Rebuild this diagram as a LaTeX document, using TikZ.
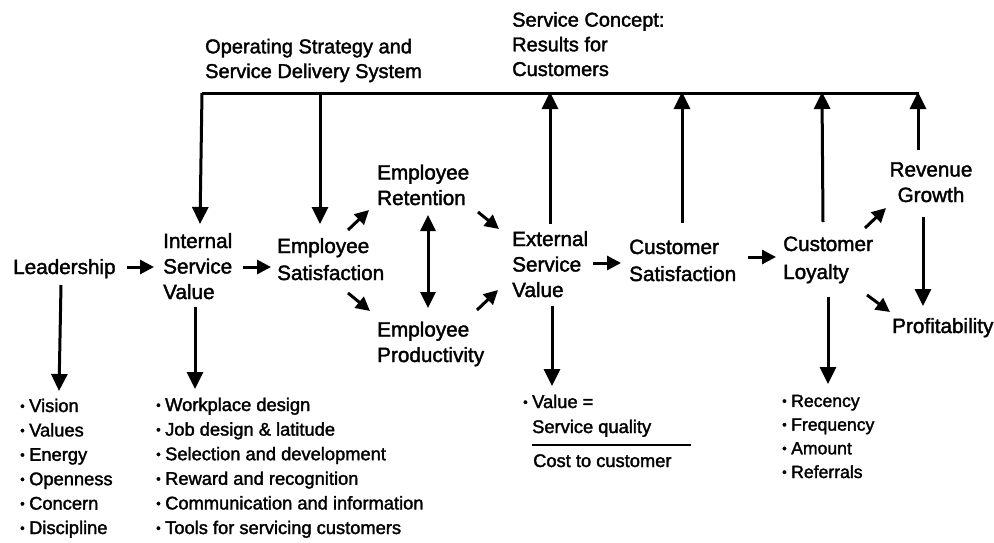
\documentclass[tikz,border=0pt]{standalone}
\usepackage{fontspec}
\setmainfont{Liberation Sans}[FakeBold=1.8]
\newfontfamily\mfont{Liberation Sans}[FakeBold=1.8]
\usetikzlibrary{arrows.meta}
\newcommand{\bt}{\makebox[9pt][l]{\raisebox{1.5pt}{\fontsize{13}{13}\selectfont\textbullet}}}
\begin{document}
\begin{tikzpicture}[x=1pt,y=-1pt,
  lbl/.style={inner sep=0pt, anchor=base west, align=left, font=\mfont\fontsize{20.7}{25.5}\selectfont},
  head/.style={inner sep=0pt, anchor=base west, align=left, font=\mfont\fontsize{20}{24.7}\selectfont},
  lst/.style={inner sep=0pt, anchor=base west, align=left, font=\mfont\fontsize{18.3}{24.4}\selectfont},
  bar/.style={line width=3pt},
  big/.style={line width=3pt, -{Triangle[length=17pt,width=16pt]}},
  sml/.style={line width=3pt, -{Triangle[length=14pt,width=14pt]}},
  dbl/.style={line width=3pt, {Triangle[length=16pt,width=15pt]}-{Triangle[length=16pt,width=15pt]}},
  rule/.style={line width=2pt}]
\useasboundingbox (0,0) rectangle (994,542);

% headings (anchor = baseline of last line)
\node[head] (ops) at (205,78) {Operating Strategy and\\Service Delivery System};
\node[head] (sc) at (512,76) {Service Concept:\\Results for\\Customers};

% main nodes
\node[lbl] (lead) at (13,274) {Leadership};
\node[lbl] (isv) at (163,299) {Internal\\Service\\Value};
\node[lbl, font=\mfont\fontsize{20.7}{27}\selectfont] (es) at (277,280) {Employee\\Satisfaction};
\node[lbl] (er) at (377,205) {Employee\\Retention};
\node[lbl] (ep) at (377,362) {Employee\\Productivity};
\node[lbl] (esv) at (512,297) {External\\Service\\Value};
\node[lbl, font=\mfont\fontsize{20.7}{27}\selectfont] (cs) at (629,281) {Customer\\Satisfaction};
\node[lbl, font=\mfont\fontsize{20.7}{28}\selectfont] (cl) at (783,279) {Customer\\Loyalty};
\node[lbl, align=center, anchor=base] (rg) at (931,202) {Revenue\\Growth};
\node[lbl] (pr) at (892,333) {Profitability};

% lists
\node[lst] (ll) at (20,534) {\bt Vision\\\bt Values\\\bt Energy\\\bt Openness\\\bt Concern\\\bt Discipline};
\node[lst, font=\mfont\fontsize{18.3}{24.6}\selectfont] (il) at (156,534) {\bt Workplace design\\\bt Job design \& latitude\\\bt Selection and development\\\bt Reward and recognition\\\bt Communication and information\\\bt Tools for servicing customers};
\node[lst, font=\mfont\fontsize{18.3}{25}\selectfont] (vl) at (523,433) {\bt Value =\\\hspace*{9pt}Service quality};
\node[lst] (vc) at (533,467) {Cost to customer};
\node[lst, font=\mfont\fontsize{17.6}{23.7}\selectfont] (cll) at (782,478) {\bt Recency\\\bt Frequency\\\bt Amount\\\bt Referrals};

% top bar
\coordinate (tl) at (202,93);
\coordinate (tr) at (919,93);
\draw[bar] (tl) -- (tr);

% down arrows from operating strategy
\coordinate (d1) at (202,93);
\coordinate (d1e) at (200,224);
\coordinate (d2) at (320,93);
\coordinate (d2e) at (320,224);
\draw[big] (d1) -- (d1e);
\draw[big] (d2) -- (d2e);

% up arrows to service concept
\coordinate (u1s) at (550,224); \coordinate (u1e) at (550,92);
\coordinate (u2s) at (682,223); \coordinate (u2e) at (682,92);
\coordinate (u3s) at (823,222); \coordinate (u3e) at (822,92);
\coordinate (u4s) at (918,150); \coordinate (u4e) at (918,92);
\draw[big] (u1s) -- (u1e);
\draw[big] (u2s) -- (u2e);
\draw[big] (u3s) -- (u3e);
\draw[big] (u4s) -- (u4e);

% horizontal chain
\coordinate (a1s) at (127,267); \coordinate (a1e) at (154,267);
\coordinate (a2s) at (243,267); \coordinate (a2e) at (271,267);
\coordinate (a3s) at (593,263); \coordinate (a3e) at (621,263);
\coordinate (a4s) at (748,257); \coordinate (a4e) at (776,257);
\draw[sml] (a1s) -- (a1e);
\draw[sml] (a2s) -- (a2e);
\draw[sml] (a3s) -- (a3e);
\draw[sml] (a4s) -- (a4e);

% diagonals
\coordinate (b1s) at (348,230); \coordinate (b1e) at (369,210);
\coordinate (b2s) at (348,293); \coordinate (b2e) at (370,311);
\coordinate (b3s) at (478,212); \coordinate (b3e) at (499,229);
\coordinate (b4s) at (477,310); \coordinate (b4e) at (498,290);
\coordinate (b5s) at (865,228); \coordinate (b5e) at (886,208);
\coordinate (b6s) at (867,295); \coordinate (b6e) at (890,312);
\draw[sml] (b1s) -- (b1e);
\draw[sml] (b2s) -- (b2e);
\draw[sml] (b3s) -- (b3e);
\draw[sml] (b4s) -- (b4e);
\draw[sml] (b5s) -- (b5e);
\draw[sml] (b6s) -- (b6e);

% double arrow retention-productivity
\coordinate (c1) at (428,215); \coordinate (c2) at (428,308);
\draw[dbl] (c1) -- (c2);

% revenue growth -> profitability
\coordinate (r1) at (923,217); \coordinate (r2) at (923,306);
\draw[big] (r1) -- (r2);

% downward to lists
\coordinate (v1s) at (61,285); \coordinate (v1e) at (59,391);
\coordinate (v2s) at (195,307); \coordinate (v2e) at (195,389);
\coordinate (v3s) at (552,306); \coordinate (v3e) at (552,386);
\coordinate (v4s) at (828,297); \coordinate (v4e) at (828,384);
\draw[big] (v1s) -- (v1e);
\draw[big] (v2s) -- (v2e);
\draw[big] (v3s) -- (v3e);
\draw[big] (v4s) -- (v4e);

% fraction rule
\coordinate (f1) at (532,445); \coordinate (f2) at (691,445);
\draw[rule] (f1) -- (f2);
\end{tikzpicture}
\end{document}
